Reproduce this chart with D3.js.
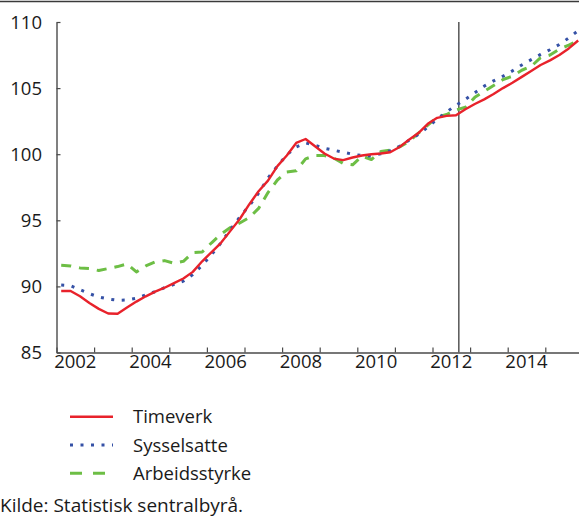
<!DOCTYPE html>
<html>
<head>
<meta charset="utf-8">
<script src="https://cdn.jsdelivr.net/npm/d3@7"></script>
<style>
  body { margin: 0; background: #fff; }
  text { font-family: "Open Sans", sans-serif; fill: #1a1a1a; }
</style>
</head>
<body>
<div class="chart"></div>
<script>
// Quarterly index, 2010 = 100. Values, 2002K1 - 2015K4
var startYear = 2002;
var timeverk = [
  89.65, 89.65, 89.25, 88.75, 88.3, 87.95, 87.93, 88.4,
  88.85, 89.25, 89.6, 89.9, 90.25, 90.6, 91.1, 91.9,
  92.6, 93.3, 94.2, 95.1, 96.2, 97.2, 98.0, 99.1,
  99.9, 100.85, 101.15, 100.6, 100.05, 99.67, 99.55, 99.75,
  99.9, 100.0, 100.05, 100.15, 100.55, 101.1, 101.6, 102.3,
  102.75, 102.9, 102.95, 103.4, 103.8, 104.15, 104.55, 105.0,
  105.4, 105.85, 106.3, 106.75, 107.1, 107.5, 108.0, 108.6
];
var sysselsatte = [
  90.1, 90.05, 89.75, 89.45, 89.2, 89.05, 88.95, 88.97,
  89.1, 89.35, 89.6, 89.9, 90.15, 90.4, 90.9, 91.6,
  92.4, 93.3, 94.3, 95.25, 96.1, 97.05, 98.2, 99.1,
  99.95, 100.55, 100.85, 100.68, 100.45, 100.3, 100.15, 100.0,
  99.9, 99.87, 100.03, 100.27, 100.6, 101.05, 101.5, 102.05,
  102.65, 103.2, 103.7, 104.15, 104.65, 105.15, 105.55, 105.9,
  106.3, 106.75, 107.15, 107.55, 107.9, 108.3, 108.8, 109.35
];
var arbeidsstyrke = [
  91.6, 91.55, 91.4, 91.35, 91.2, 91.35, 91.5, 91.7,
  91.1, 91.55, 91.85, 91.95, 91.75, 91.9, 92.55, 92.6,
  93.3, 93.95, 94.45, 94.8, 95.2, 95.9, 97.1, 98.05,
  98.65, 98.75, 99.65, 99.9, 99.9, 99.7, 99.3, 99.2,
  99.85, 99.6, 100.2, 100.3, 100.55, 100.95, 101.6, 102.2,
  102.8, 103.0, 103.35, 103.55, 104.3, 104.75, 105.2, 105.65,
  105.9, 106.35, 106.65, 107.3, 107.5, 107.95, 108.25, 108.6
];
var yTicks = [85, 90, 95, 100, 105, 110];
var yearLabels = [2002, 2004, 2006, 2008, 2010, 2012, 2014];
var forecastStart = 2012.7;
var seriesNames = ["Timeverk", "Sysselsatte", "Arbeidsstyrke"];
var source = "Kilde: Statistisk sentralbyrå.";

var svgWidth = 579;
var svgHeight = 517;
var margin = { top: 22, left: 56.5, bottom: 164.5 };
var height = svgHeight - margin.top - margin.bottom;

var svg = d3.select(".chart")
  .append("svg")
  .attr("width", svgWidth)
  .attr("height", svgHeight);

// top rule
svg.append("line")
  .attr("x1", 0).attr("x2", svgWidth)
  .attr("y1", 1.5).attr("y2", 1.5)
  .attr("stroke", "#3a3a3a")
  .attr("stroke-width", 1.6);

var xScale = d3.scaleLinear()
  .domain([2002, 2016])
  .range([margin.left, margin.left + 14 * 37.6]);
var yScale = d3.scaleLinear()
  .domain([85, 110])
  .range([margin.top + height, margin.top]);

function qDate(i) { return startYear + i / 4 + 0.125; }

var series = [
  { name: seriesNames[0], values: timeverk, color: "#e8222b", width: 2.4, dash: null },
  { name: seriesNames[1], values: sysselsatte, color: "#3551a6", width: 3, dash: "3,7.5" },
  { name: seriesNames[2], values: arbeidsstyrke, color: "#6dbe45", width: 3, dash: "10,8" }
];

// axes
var axisColor = "#4a4a4a";
var bottomAxis = d3.axisBottom(xScale)
  .tickValues(d3.range(2002, 2016))
  .tickSizeInner(-5)
  .tickSizeOuter(0)
  .tickFormat("");
var gx = svg.append("g")
  .attr("transform", "translate(0," + yScale(85) + ")")
  .call(bottomAxis);
gx.select(".domain").attr("stroke", axisColor).attr("stroke-width", 1.4);
gx.selectAll(".tick line").attr("stroke", axisColor).attr("stroke-width", 1.2);

svg.append("g").selectAll("text")
  .data(yearLabels)
  .enter().append("text")
  .attr("x", function(d) { return xScale(d + 0.5); })
  .attr("y", 368)
  .attr("text-anchor", "middle")
  .attr("font-size", "18.5px")
  .text(function(d) { return d; });

var leftAxis = d3.axisLeft(yScale)
  .tickValues(yTicks)
  .tickSizeInner(-4)
  .tickSizeOuter(0)
  .tickFormat("");
var gy = svg.append("g")
  .attr("transform", "translate(" + margin.left + ",0)")
  .call(leftAxis);
gy.select(".domain").attr("stroke", axisColor).attr("stroke-width", 1.4);
gy.selectAll(".tick line").attr("stroke", axisColor).attr("stroke-width", 1.2);

svg.append("g").selectAll("text")
  .data(yTicks)
  .enter().append("text")
  .attr("x", 42)
  .attr("y", function(d) { return yScale(d); })
  .attr("dy", "0.36em")
  .attr("text-anchor", "end")
  .attr("font-size", "18.5px")
  .text(function(d) { return d; });

// forecast divider
svg.append("line")
  .attr("x1", xScale(forecastStart)).attr("x2", xScale(forecastStart))
  .attr("y1", yScale(110)).attr("y2", yScale(85))
  .attr("stroke", "#555")
  .attr("stroke-width", 1.5);

// lines
var line = d3.line()
  .x(function(d, i) { return xScale(qDate(i)); })
  .y(function(d) { return yScale(d); });

series.slice().reverse().forEach(function(s) {
  svg.append("path")
    .datum(s.values)
    .attr("d", line)
    .attr("fill", "none")
    .attr("stroke", s.color)
    .attr("stroke-width", s.width)
    .attr("stroke-dasharray", s.dash)
    .attr("stroke-linejoin", "round");
});

// legend
var legend = svg.append("g").selectAll("g")
  .data(series)
  .enter().append("g")
  .attr("transform", function(d, i) { return "translate(70," + (416.7 + i * 28.3) + ")"; });
legend.append("line")
  .attr("x1", 0).attr("x2", 43)
  .attr("stroke", function(d) { return d.color; })
  .attr("stroke-width", function(d) { return d.width; })
  .attr("stroke-dasharray", function(d) { return d.name == "Arbeidsstyrke" ? "12,11" : d.dash; });
legend.append("text")
  .attr("x", 63)
  .attr("dy", "0.36em")
  .attr("font-size", "18.5px")
  .text(function(d) { return d.name; });

svg.append("text")
  .attr("x", 0)
  .attr("y", 512)
  .attr("font-size", "19px")
  .text(source);
</script>
</body>
</html>
